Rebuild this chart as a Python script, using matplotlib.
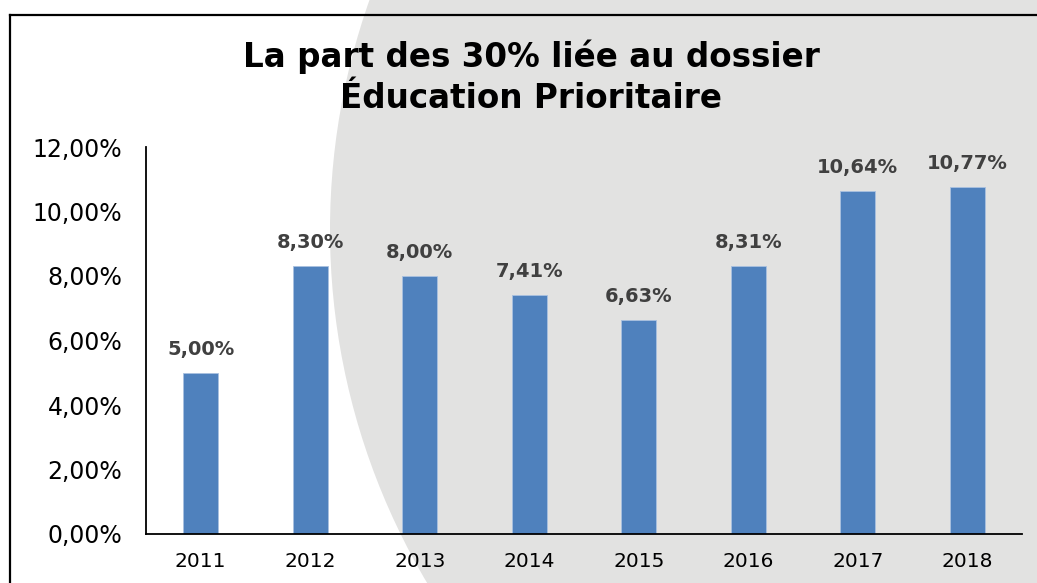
import matplotlib
matplotlib.use("Agg")
import matplotlib.pyplot as plt
from matplotlib.patches import Circle
from matplotlib.lines import Line2D
from matplotlib.ticker import FuncFormatter

years = ["2011", "2012", "2013", "2014", "2015", "2016", "2017", "2018"]
values = [5.00, 8.30, 8.00, 7.41, 6.63, 8.31, 10.64, 10.77]
yticks = [0, 2, 4, 6, 8, 10, 12]
title = "La part des 30% liée au dossier\nÉducation Prioritaire"

W, H = 1037, 583
fig = plt.figure(figsize=(W / 100, H / 100), dpi=100)
fig.patch.set_facecolor("white")

# background decorative circle (pixel coordinates)
circ = Circle((1020, H - 230), 690, transform=None, facecolor="#e2e2e1",
              edgecolor="none", zorder=-5)
fig.add_artist(circ)

# frame lines
fx, fy = 10 / W, 1 - 15 / H
fig.add_artist(Line2D([fx, fx], [fy, 0], transform=fig.transFigure, color="black", lw=1.6, zorder=-1))
fig.add_artist(Line2D([fx, 1], [fy, fy], transform=fig.transFigure, color="black", lw=1.6, zorder=-1))

ax = fig.add_axes([146 / W, (H - 534) / H, (1022 - 146) / W, (534 - 147) / H])
ax.set_zorder(2)
ax.set_facecolor("none")
x = range(len(years))
bars = ax.bar(x, values, width=0.32, color="#4f81bd", edgecolor="#a9c1e0", linewidth=0.6, zorder=2)
ax.set_xlim(-0.5, len(years) - 0.5)
ax.set_ylim(0, 12)
ax.set_yticks(yticks)
ax.yaxis.set_major_formatter(FuncFormatter(lambda v, p: f"{v:.2f}".replace(".", ",") + "%"))
ax.set_xticks(list(x))
ax.set_xticklabels(years)
ax.tick_params(axis="y", length=0, pad=17, labelsize=17, labelcolor="#000000")
ax.tick_params(axis="x", length=0, pad=13, labelsize=14.5, labelcolor="#000000")
for s in ["top", "right"]:
    ax.spines[s].set_visible(False)
for s in ["left", "bottom"]:
    ax.spines[s].set_color("black")
    ax.spines[s].set_linewidth(1.3)

for xi, v in zip(x, values):
    ax.annotate(f"{v:.2f}".replace(".", ",") + "%", (xi, v), xytext=(0, 10),
                textcoords="offset points", ha="center", va="bottom",
                fontsize=14, fontweight="bold", color="#404040")

fig.text(531 / W, 1 - 77 / H, title, ha="center", va="center", fontsize=23.5,
         fontweight="bold", color="black", linespacing=1.3)

fig.savefig("out.png", dpi=100)
